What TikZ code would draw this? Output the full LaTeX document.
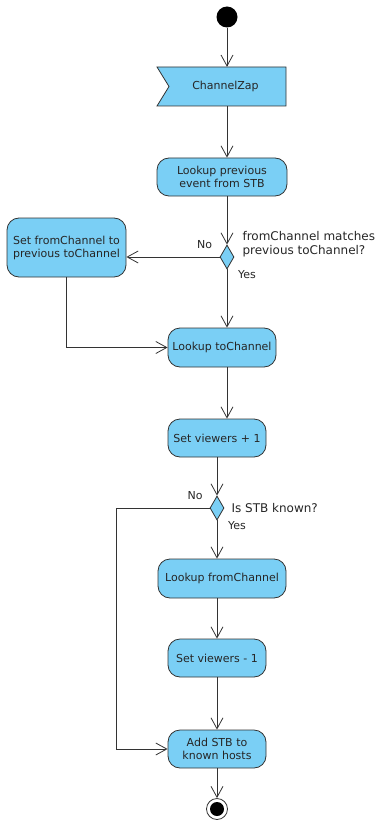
\documentclass[tikz,border=0pt]{standalone}
\usepackage{fontspec}
\setmainfont{DejaVu Sans}
\usetikzlibrary{positioning,arrows.meta,shapes.geometric,calc}
\definecolor{actblue}{HTML}{7ACFF5}
\definecolor{edge}{HTML}{333333}

\begin{document}
\begin{tikzpicture}[x=1pt, y=-1pt,
    act/.style={draw=edge, fill=actblue, rounded corners=12pt, inner sep=2pt,
      align=center, line width=0.8pt, text=black!85,
      font=\fontsize{11}{13}\selectfont},
    dec/.style={diamond, draw=edge, fill=actblue, inner sep=0pt,
      minimum width=14pt, minimum height=24pt, line width=0.8pt},
    arr/.style={draw=edge, line width=0.8pt,
      -{Straight Barb[length=11pt,width=12pt]}},
    lbl/.style={text=black!85, font=\fontsize{11}{13}\selectfont},
    qst/.style={text=black!85, align=left, font=\fontsize{12}{14}\selectfont}]
%
    \useasboundingbox (0,0) rectangle (377,821);
%
    \node[circle, fill=black, minimum size=21pt, inner sep=0pt] (start) at (227,17) {};
    \draw[draw=edge, fill=actblue, line width=0.8pt]
      (157,67) -- (286,67) -- (286,106) -- (157,106) -- (169,86.5) -- cycle;
    \node[minimum width=121pt, minimum height=39pt, inner sep=0pt, lbl] (zap) at (225.5,86.5) {ChannelZap};
%
    \node[act, minimum width=130pt, minimum height=38pt] (prev) at (222,177) {Lookup previous\\event from STB};
    \node[dec] (d1) at (227,257) {};
    \node[act, minimum width=119pt, minimum height=59pt] (setfrom) at (66.5,247.5) {Set fromChannel to\\previous toChannel};
    \node[act, minimum width=108pt, minimum height=39pt] (toch) at (222,347.5) {Lookup toChannel};
    \node[act, minimum width=98pt, minimum height=38pt] (setp1) at (217,438) {Set viewers + 1};
    \node[dec] (d2) at (217,508) {};
    \node[act, minimum width=128pt, minimum height=39pt] (lookfrom) at (222,578.5) {Lookup fromChannel};
    \node[act, minimum width=98pt, minimum height=38pt] (setm1) at (217,658) {Set viewers - 1};
    \node[act, minimum width=98pt, minimum height=38pt] (addstb) at (217,749) {Add STB to\\known hosts};
    \node[circle, draw=edge, line width=0.8pt, minimum size=21pt, inner sep=0pt] (stop) at (217,809) {};
    \node[circle, fill=black, minimum size=14pt, inner sep=0pt] (stopdot) at (stop) {};
%
    \node[lbl] (no1) at (204.5,245) {No};
    \node[qst, anchor=west] (q1) at (239,244) {fromChannel matches\\previous toChannel?};
    \node[lbl] (yes1) at (247,275) {Yes};
    \node[lbl] (no2) at (195,496) {No};
    \node[qst, anchor=west] (q2) at (228,508) {Is STB known?};
    \node[lbl] (yes2) at (237,526) {Yes};
%
    \draw[arr] (start.south) -- (start.south |- zap.north);
    \draw[arr] (start |- zap.south) -- (start |- prev.north);
    \draw[arr] (prev.south -| d1) -- (d1.north);
    \draw[arr] (d1.west) -- (d1.west -| setfrom.east);
    \draw[arr] (d1.south) -- (d1 |- toch.north);
    \draw[arr] (setfrom.south) |- (toch.west);
    \draw[arr] (toch.south -| d1) -- (d1 |- setp1.north);
    \draw[arr] (setp1.south -| d2) -- (d2.north);
    \draw[arr] (d2.south) -- (d2 |- lookfrom.north);
    \draw[arr] (lookfrom.south -| d2) -- (setm1.north);
    \draw[arr] (setm1) -- (addstb);
    \draw[arr] (d2.west) -- ++(-93,0) |- (addstb.west);
    \draw[arr] (addstb) -- (stop);
\end{tikzpicture}
\end{document}
